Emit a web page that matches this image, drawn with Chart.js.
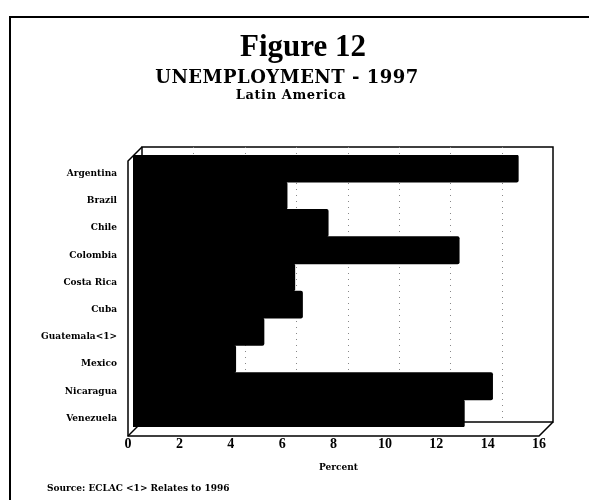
<!DOCTYPE html>
<html>
<head>
<meta charset="utf-8">
<script src="https://cdn.jsdelivr.net/npm/chart.js@4.4.1/dist/chart.umd.min.js"></script>
<style>
  html, body { margin: 0; padding: 0; background: #fff; }
  #wrap { position: relative; width: 589px; height: 500px; overflow: hidden; background: #fff; }
  #frame { position: absolute; left: 9px; top: 16px; width: 600px; height: 500px;
           border-left: 2px solid #000; border-top: 2px solid #000; box-sizing: border-box; }
  canvas { position: absolute; left: 0; top: 0; }
  .txt { position: absolute; white-space: nowrap; color: #000; font-weight: bold; }
  #fig { left: 303px; top: 30px; transform: translateX(-50%); font: bold 31px/31px "Liberation Serif", serif; }
  #sub1 { left: 287px; top: 68px; transform: translateX(-50%); font: bold 18px/18px "DejaVu Serif", serif; letter-spacing: 0.5px; }
  #sub2 { left: 291px; top: 88px; transform: translateX(-50%); font: bold 13px/13px "DejaVu Serif", serif; letter-spacing: 0.6px; }
  #src { left: 47px; top: 484px; font: bold 9px/9px "DejaVu Serif", serif; }
</style>
</head>
<body>
<div id="wrap">
  <div id="frame"></div>
  <canvas id="c" width="589" height="500"></canvas>
  <div class="txt" id="fig">Figure 12</div>
  <div class="txt" id="sub1">UNEMPLOYMENT - 1997</div>
  <div class="txt" id="sub2">Latin America</div>
  <div class="txt" id="src">Source: ECLAC &lt;1&gt; Relates to 1996</div>
</div>
<script>
// ---- data ----
const categories = ['Argentina', 'Brazil', 'Chile', 'Colombia', 'Costa Rica', 'Cuba', 'Guatemala<1>', 'Mexico', 'Nicaragua', 'Venezuela'];
const unemployment = [15.0, 6.0, 7.6, 12.7, 6.3, 6.6, 5.1, 4.0, 14.0, 12.9];
const xTickValues = [0, 2, 4, 6, 8, 10, 12, 14, 16];
const xAxisTitle = 'Percent';

// depth of the pseudo-3D box, relative to the bar plane
const FRONT = { dx: -5, dy: 9 };   // front plane offset
const DEPTH = 14;                  // front -> back shift (dx = +14, dy = -14)

const box3d = {
  id: 'box3d',
  beforeDatasetsDraw(chart) {
    const { ctx, chartArea: a, scales } = chart;
    const fl = a.left + FRONT.dx, fr = a.right + FRONT.dx;
    const ft = a.top + 6, fb = a.bottom + FRONT.dy;
    const bl = fl + DEPTH, br = fr + DEPTH, bt = ft - DEPTH, bb = fb - DEPTH;
    ctx.save();
    ctx.strokeStyle = '#000';
    ctx.lineWidth = 1.5;
    // back wall
    ctx.strokeRect(bl, bt, br - bl, bb - bt);
    // back-wall grid lines (dotted)
    ctx.lineWidth = 1;
    ctx.strokeStyle = '#888';
    ctx.setLineDash([1, 5]);
    const xs = scales.x;
    xTickValues.forEach(v => {
      if (v === xTickValues[0] || v === xTickValues[xTickValues.length - 1]) return;
      const px = Math.round(xs.getPixelForValue(v) + (FRONT.dx + DEPTH)) + 0.5;
      ctx.beginPath(); ctx.moveTo(px, bt); ctx.lineTo(px, bb); ctx.stroke();
    });
    ctx.setLineDash([]);
    ctx.strokeStyle = '#000';
    ctx.lineWidth = 1.5;
    // left wall outer edge + top diagonal
    ctx.beginPath();
    ctx.moveTo(bl, bt); ctx.lineTo(fl, ft); ctx.lineTo(fl, fb);
    // floor front edge, right diagonal
    ctx.lineTo(fr, fb); ctx.lineTo(br, bb);
    ctx.stroke();
    // floor bottom-left diagonal
    ctx.beginPath(); ctx.moveTo(fl, fb); ctx.lineTo(bl, bb); ctx.stroke();
    ctx.restore();
  }
};

new Chart(document.getElementById('c'), {
  type: 'bar',
  data: {
    labels: categories,
    datasets: [{
      label: 'Unemployment 1997',
      data: unemployment,
      backgroundColor: '#000',
      borderWidth: 0,
      borderRadius: 2,
      borderSkipped: 'start',
      barPercentage: 1,
      categoryPercentage: 1
    }]
  },
  options: {
    indexAxis: 'y',
    responsive: false,
    animation: false,
    devicePixelRatio: 1,
    layout: { padding: { left: 0, top: 155, right: 45, bottom: 23 } },
    plugins: { legend: { display: false }, tooltip: { enabled: false } },
    scales: {
      x: {
        type: 'linear',
        min: xTickValues[0],
        max: xTickValues[xTickValues.length - 1],
        grid: { display: false, drawTicks: false },
        border: { display: false },
        afterFit: s => { s.height = 50; },
        afterBuildTicks: s => { s.ticks = xTickValues.map(v => ({ value: v })); },
        ticks: {
          color: '#000',
          padding: 9,
          labelOffset: -5,
          font: { family: '"Liberation Serif", serif', size: 14, weight: 'bold' }
        },
        title: {
          display: true,
          text: xAxisTitle,
          color: '#000',
          padding: { top: 4, bottom: 4 },
          font: { family: '"DejaVu Serif", serif', size: 9, weight: 'bold' }
        }
      },
      y: {
        grid: { display: false, drawTicks: false },
        border: { display: false },
        afterFit: s => { s.width = 133; },
        ticks: {
          color: '#000',
          padding: 16,
          labelOffset: 5,
          font: { family: '"DejaVu Serif", serif', size: 9, weight: 'bold' }
        }
      }
    }
  },
  plugins: [box3d]
});
</script>
</body>
</html>
